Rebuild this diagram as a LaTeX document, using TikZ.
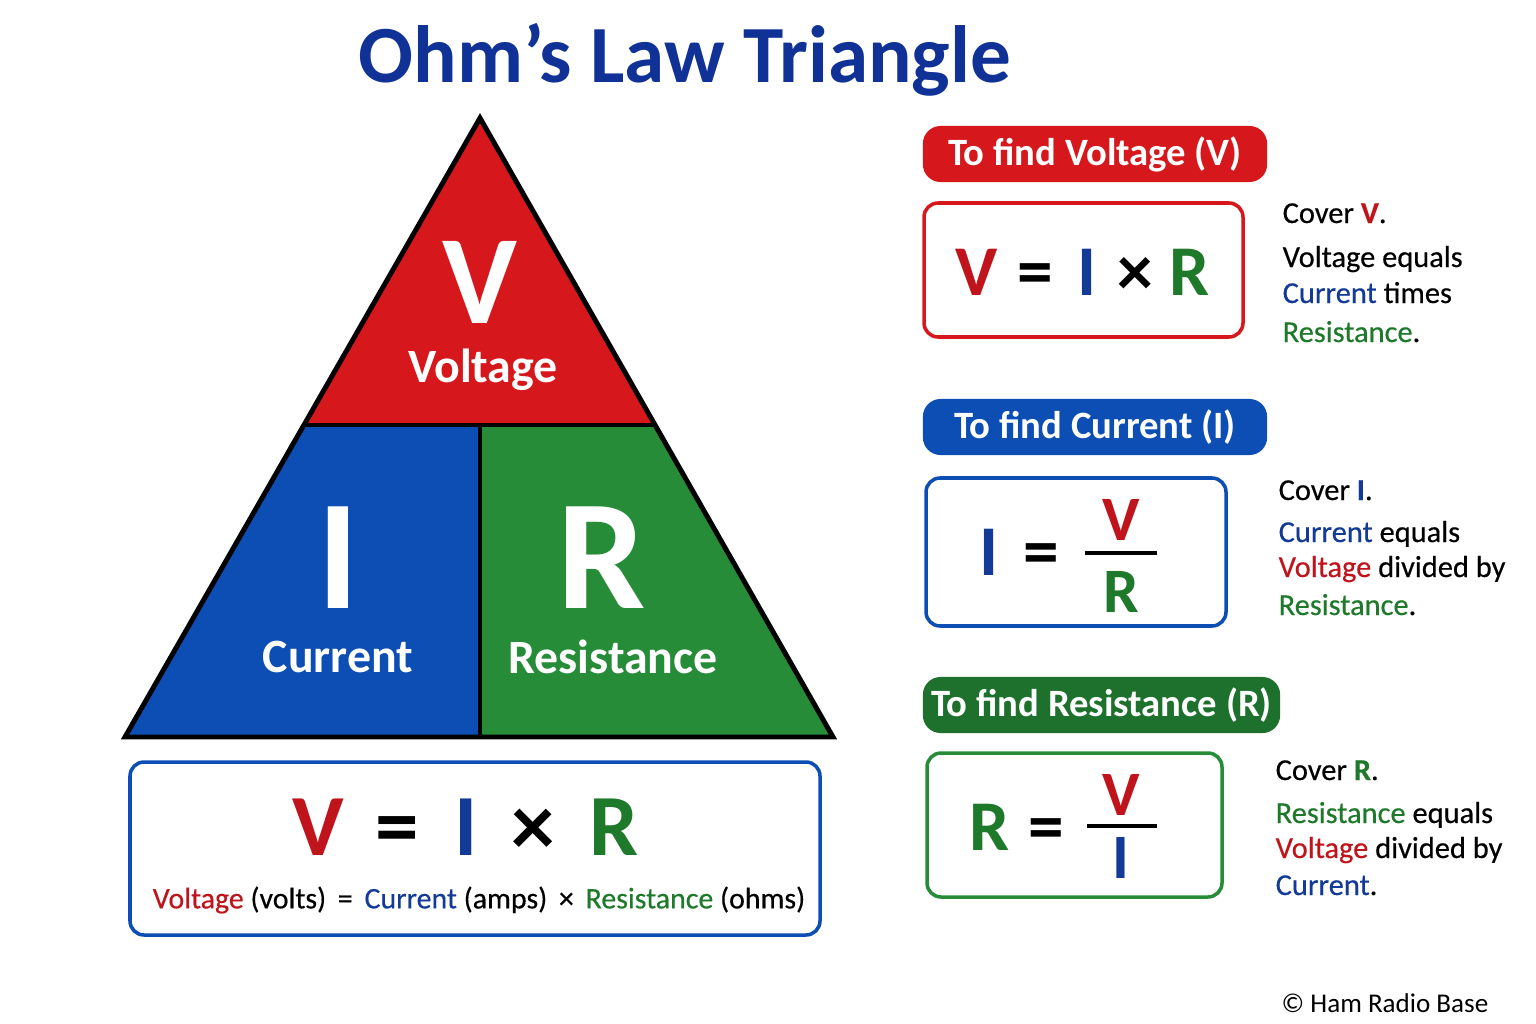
\documentclass[tikz,border=0pt]{standalone}
\usepackage{fontspec}
\setmainfont{Carlito}
\newfontfamily\medfont{Carlito}[FakeBold=0.4]
\usetikzlibrary{positioning}

\definecolor{ohmred}{RGB}{214,24,28}
\definecolor{ohmblue}{RGB}{12,78,180}
\definecolor{ohmgreen}{RGB}{38,140,56}
\definecolor{txtred}{RGB}{192,20,28}
\definecolor{txtblue}{RGB}{18,58,150}
\definecolor{txtgreen}{RGB}{30,122,42}
\definecolor{titleblue}{RGB}{16,50,150}

\newcommand{\fs}[1]{\fontsize{#1}{1.2\dimexpr#1pt\relax}\selectfont}

\begin{document}
\begin{tikzpicture}[x=0.01cm,y=-0.01cm,
  bigletter/.style={font=\fs{44.6}\bfseries, text=white, inner sep=0pt},
  trilabel/.style={font=\fs{13.6}\bfseries, text=white, inner sep=0pt},
  eqletter/.style={font=\fs{24.8}\bfseries, inner sep=0pt, anchor=base},
  boxletter/.style={font=\fs{20.3}\bfseries, inner sep=0pt, anchor=base},
  fracletter/.style={font=\fs{18}\bfseries, inner sep=0pt},
  header/.style={font=\fs{11}\bfseries, text=white, rounded corners=5pt,
    minimum height=0.56cm, inner sep=0pt},
  sideline/.style={font=\medfont\fs{8.65}, anchor=base west, inner sep=0pt},
  fbox/.style={line width=1pt, rounded corners=4pt}]

  \useasboundingbox (0,0) rectangle (1536,1024);

  % title
  \node[font=\fs{23.1}\bfseries, text=titleblue] (title) at (685,60) {Ohm’s Law Triangle};

  % triangle
  \coordinate (top) at (480,118);
  \coordinate (bl) at (125,737);
  \coordinate (br) at (833,737);
  \coordinate (ml) at (304,425);
  \coordinate (mr) at (655,425);
  \coordinate (mm) at (480,425);
  \coordinate (bm) at (480,737);
  \fill[ohmred] (top) -- (ml) -- (mr) -- cycle;
  \fill[ohmblue] (ml) -- (bl) -- (bm) -- (mm) -- cycle;
  \fill[ohmgreen] (mm) -- (bm) -- (br) -- (mr) -- cycle;
  \draw[line width=1.4pt] (ml) -- (mr);
  \draw[line width=1.4pt] (mm) -- (bm);
  \draw[line width=1.4pt, line join=miter] (top) -- (bl) -- (br) -- cycle;

  \node[bigletter, font=\fs{36}\bfseries] (tv) at (480,282) {V};
  \node[trilabel] (tvl) at (483,370) {Voltage};
  \node[bigletter] (ti) at (338,558) {I};
  \node[trilabel] (til) at (338,657) {Current};
  \node[bigletter] (tr) at (602,558) {R};
  \node[trilabel] (trl) at (613,657) {Resistance};

  % summary box
  \draw[fbox, draw=ohmblue] (130,762) rectangle (820,935);
  \node[eqletter, text=txtred] (sv) at (318,855) {V};
  \node[eqletter] (seq) at (397,855) {=};
  \node[eqletter, text=txtblue] (si) at (466,855) {I};
  \node[eqletter] (sx) at (533,855) {×};
  \node[eqletter, text=txtgreen] (sr) at (614,855) {R};
  \node[font=\medfont\fs{8.5}, inner sep=0pt] (units) at (479,900)
    {\textcolor{txtred}{Voltage} (volts) \,=\, \textcolor{txtblue}{Current} (amps) \,×\, \textcolor{txtgreen}{Resistance} (ohms)};

  % voltage
  \node[header, fill=ohmred, minimum width=3.44cm] (hv) at (1095,154) {To find Voltage (V)};
  \draw[fbox, draw=ohmred] (924,203) rectangle (1243,337);
  \node[boxletter, text=txtred] (v1) at (977,295) {V};
  \node[boxletter] (v2) at (1035,295) {=};
  \node[boxletter, text=txtblue] (v3) at (1087,295) {I};
  \node[boxletter] (v4) at (1135,295) {×};
  \node[boxletter, text=txtgreen] (v5) at (1190,295) {R};
  \node[sideline] (vt1) at (1282,223) {Cover \textcolor{txtred}{\textbf{V}}.};
  \node[sideline] (vt2) at (1282,267) {Voltage equals};
  \node[sideline] (vt3) at (1282,303) {\textcolor{txtblue}{Current} times};
  \node[sideline] (vt4) at (1282,342) {\textcolor{txtgreen}{Resistance}.};

  % current
  \node[header, fill=ohmblue, minimum width=3.44cm] (hi) at (1095,427) {To find Current (I)};
  \draw[fbox, draw=ohmblue] (926,478) rectangle (1226,626);
  \node[boxletter, text=txtblue] (i1) at (989,575) {I};
  \node[boxletter] (i2) at (1041,575) {=};
  \node[fracletter, text=txtred] (i3) at (1121,520) {V};
  \node[fracletter, text=txtgreen] (i4) at (1121,592) {R};
  \draw[line width=0.9pt] (1085,553) -- (1157,553);
  \node[sideline] (it1) at (1278,500) {Cover \textcolor{txtblue}{\textbf{I}}.};
  \node[sideline] (it2) at (1278,542) {\textcolor{txtblue}{Current} equals};
  \node[sideline] (it3) at (1278,577) {\textcolor{txtred}{Voltage} divided by};
  \node[sideline] (it4) at (1278,615) {\textcolor{txtgreen}{Resistance}.};

  % resistance
  \node[header, fill=ohmgreen!80!black, minimum width=3.57cm] (hr) at (1101.5,705) {To find Resistance (R)};
  \draw[fbox, draw=ohmgreen] (927,753) rectangle (1222,897);
  \node[boxletter, text=txtgreen] (r1) at (990,850) {R};
  \node[boxletter] (r2) at (1046,850) {=};
  \node[fracletter, text=txtred] (r3) at (1121,795) {V};
  \node[fracletter, text=txtblue] (r4) at (1121,858) {I};
  \draw[line width=0.9pt] (1087,826) -- (1157,826);
  \node[sideline] (rt1) at (1275,780) {Cover \textcolor{txtgreen}{\textbf{R}}.};
  \node[sideline] (rt2) at (1275,823) {\textcolor{txtgreen}{Resistance} equals};
  \node[sideline] (rt3) at (1275,858) {\textcolor{txtred}{Voltage} divided by};
  \node[sideline] (rt4) at (1275,895) {\textcolor{txtblue}{Current}.};

  \node[font=\fs{7.7}, inner sep=0pt] (copy) at (1385,1003) {© Ham Radio Base};
\end{tikzpicture}
\end{document}
